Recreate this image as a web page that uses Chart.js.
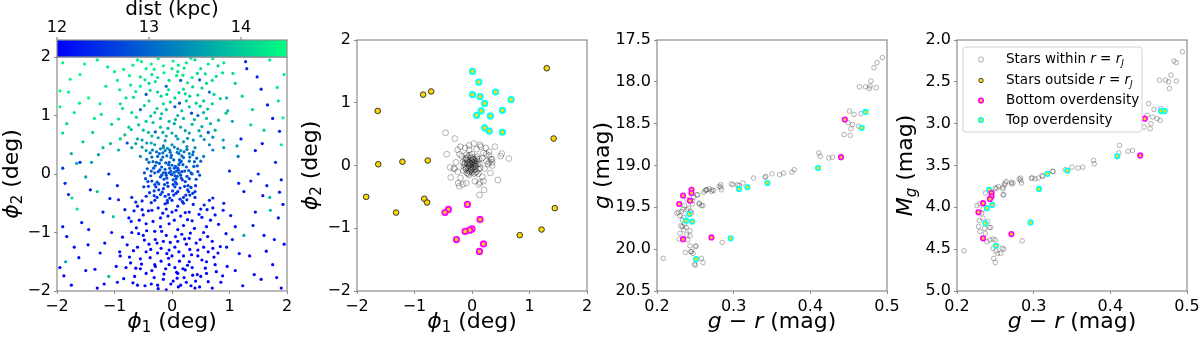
<!DOCTYPE html>
<html>
<head>
<meta charset="utf-8">
<script src="https://cdn.jsdelivr.net/npm/chart.js@4.4.1/dist/chart.umd.min.js"></script>
<style>
  body { margin: 0; background: #fff; width: 1200px; height: 339px; position: relative; overflow: hidden; }
  .panel { position: absolute; top: 0; height: 339px; }
</style>
</head>
<body>
<div class="panel" style="left:0;width:295px"><canvas id="skyDist"></canvas></div>
<div class="panel" style="left:290px;width:310px"><canvas id="skyGroups"></canvas></div>
<div class="panel" style="left:590px;width:310px"><canvas id="cmdApp"></canvas></div>
<div class="panel" style="left:890px;width:310px"><canvas id="cmdAbs"></canvas></div>
<script>
// ---- data ----
var skyTicks = [-2, -1, 0, 1, 2];
var colourTicks = [0.2, 0.3, 0.4, 0.5];
var gTicks = [17.5, 18.0, 18.5, 19.0, 19.5, 20.0, 20.5];
var mgTicks = [2.0, 2.5, 3.0, 3.5, 4.0, 4.5, 5.0];
var distTicks = [12, 13, 14];
var distRange = [12, 14.5];

// panel 1: [phi1, phi2, dist] (a sample of the field stars)
var fieldStars = [
  // central clump
  [-0.05,0.02,12.8],[0.05,-0.03,12.7],[-0.12,0.08,12.9],[0.1,0.1,12.8],[-0.2,-0.05,12.7],[0.18,-0.1,12.6],[0,0.15,12.9],[-0.08,-0.15,12.6],
  [0.14,0.2,13.0],[-0.22,0.18,12.9],[0.22,0.05,12.8],[-0.3,0.02,12.8],[0.28,-0.2,12.6],[-0.15,-0.25,12.5],[0.05,-0.22,12.6],[-0.02,0.28,13.0],
  [0.3,0.22,13.1],[-0.28,-0.22,12.6],[0.08,0.05,12.8],[-0.1,-0.02,12.7],[0.02,-0.1,12.7],[-0.04,0.1,12.8],[0.15,-0.02,12.7],[-0.18,0.12,12.9],
  [0.25,0.12,12.9],[-0.25,0.3,13.0],[0.1,-0.3,12.5],[-0.35,-0.12,12.7],[0.35,0.0,12.8],[-0.06,-0.35,12.5],[0.12,0.35,13.1],[-0.4,0.2,13.0],
  [0.4,-0.3,12.6],[-0.12,0.4,13.2],[0.2,-0.4,12.5],[0,0,12.8],[-0.02,0.05,12.8],[0.04,0.03,12.8],[-0.09,-0.07,12.7],[0.07,-0.08,12.7],
  [0.12,0.02,12.8],[-0.15,0.02,12.8],[-0.05,0.2,12.9],[0.02,-0.18,12.6],[0.2,0.28,13.0],[-0.32,0.1,12.9],[0.3,-0.08,12.7],[-0.2,-0.35,12.5],
  [-0.21,0.07,12.8],[0.17,0.04,12.7],[-0.07,-0.21,12.6],[0.03,0.24,12.9],[-0.26,-0.14,12.7],[0.23,-0.13,12.6],[-0.11,0.19,12.9],[0.08,-0.17,12.7],
  [-0.33,0.21,13.0],[0.31,0.29,13.0],[-0.17,-0.31,12.6],[0.14,-0.24,12.6],[-0.37,-0.03,12.8],[0.38,0.13,12.9],[0.01,-0.29,12.6],[-0.03,0.37,13.1],
  [-0.14,-0.09,12.7],[0.11,0.07,12.8],[-0.01,-0.01,12.8],[0.06,0.13,12.8],[-0.19,0.24,12.9],[0.27,-0.27,12.6],[-0.29,0.14,12.9],[0.19,0.16,12.9],
  [-0.24,0.04,12.8],[0.29,0.06,12.8],[-0.09,0.31,13.0],[0.07,-0.33,12.5],[-0.43,0.09,12.9],[0.42,-0.09,12.7],[-0.16,0.36,13.1],[0.21,0.38,13.1],
  [-0.31,-0.29,12.6],[0.33,-0.23,12.6],[-0.04,-0.41,12.5],[0.1,0.43,13.2],[-0.27,0.38,13.1],[0.36,0.33,13.1],[-0.41,-0.21,12.6],[0.24,-0.36,12.5],
  [0.04,0.1,12.8],[-0.13,-0.18,12.7],[0.16,-0.07,12.7],[-0.06,0.16,12.9],[0.09,-0.04,12.8],[-0.18,-0.02,12.8],[0.13,0.24,12.9],[-0.23,-0.27,12.6],
  [-0.35,0.29,13.0],[0.39,0.21,13.0],[-0.46,-0.08,12.7],[0.45,0.04,12.8],[-0.12,-0.38,12.5],[0.17,0.31,13.0],[-0.38,0.36,13.1],[0.31,-0.36,12.5],
  [-0.44,0.25,13.0],[0.43,0.27,13.0],[-0.39,-0.32,12.6],[0.41,-0.2,12.6],[-0.2,0.43,13.2],[0.26,0.42,13.2],[-0.08,-0.45,12.5],[0.14,-0.43,12.5],
  [-0.48,0.02,12.8],[0.48,-0.02,12.8],[-0.26,-0.4,12.5],[0.36,-0.33,12.5],[-0.34,0.41,13.1],[0.04,0.46,13.2],[-0.42,-0.13,12.7],[0.44,0.14,12.9],
  [-0.11,0.02,12.8],[0.06,-0.14,12.7],[-0.16,0.29,13.0],[0.22,-0.21,12.6],[-0.27,0.2,12.9],[0.33,0.02,12.8],[-0.36,0.05,12.8],[0.12,0.16,12.9],
  [-0.23,-0.17,12.7],[0.26,-0.04,12.8],[-0.01,0.32,13.0],[0.03,-0.36,12.5],[-0.31,-0.37,12.6],[0.37,0.38,13.1],[-0.49,-0.22,12.6],[0.5,0.22,13.0],
  [-0.15,0.48,13.2],[0.18,-0.47,12.4],[-0.04,0.41,13.1],[0.09,0.37,13.1],[-0.3,-0.18,12.7],[0.29,-0.3,12.6],[-0.22,0.35,13.0],[0.16,0.22,12.9],
  // upper band
  [-0.3,0.5,13.6],[0.2,0.55,13.5],[-0.6,0.6,13.8],[0.5,0.65,13.6],[0,0.7,13.7],[-0.2,0.8,13.9],[0.35,0.85,13.8],[-0.45,0.9,14.0],
  [0.6,0.95,13.9],[0.1,1.0,13.8],[-0.7,1.05,14.1],[-0.1,1.1,14.0],[0.3,1.15,13.9],[0.7,1.2,14.0],[-0.4,1.25,14.2],[0.05,1.3,14.1],
  [0.45,1.35,14.0],[-0.25,1.4,14.1],[0.2,1.45,14.2],[-0.55,1.5,14.3],[0.6,1.55,14.1],[-0.05,1.6,14.2],[0.35,1.65,14.3],[-0.35,1.7,14.2],
  [0.1,1.75,14.3],[0.5,1.8,14.2],[-0.15,1.85,14.4],[0.25,1.9,14.3],[-0.6,1.95,14.4],[0.7,1.6,14.2],[-0.5,0.75,13.9],[0.15,0.8,13.7],
  [-0.05,0.9,13.8],[0.55,1.05,13.7],[-0.3,1.05,14.0],[0.25,1.25,14.0],[-0.15,1.2,14.1],[0.4,0.45,13.4],[-0.45,0.4,13.5],[0.0,0.5,13.5],
  [0.65,0.5,13.3],[-0.7,0.45,13.6],[0.1,0.6,13.6],[-0.1,0.65,13.7],[0.3,0.7,13.6],[-0.35,0.65,13.8],[0.75,0.75,13.7],[-0.75,0.8,14.0],
  [0.2,0.95,13.8],[-0.2,0.95,13.9],[0.45,1.0,12.9],[-0.55,1.1,13.1],[0.05,1.15,12.8],[0.65,1.4,13.2],[-0.1,1.5,13.0],[0.15,1.6,12.9],
  [-0.4,1.55,14.1],[0.8,1.85,14.0],[-0.8,1.3,14.2],[0.55,1.25,14.0],[-0.25,1.65,14.3],[0.4,1.95,14.2],[0.0,1.8,14.3],[-0.45,1.8,14.4],
  [0.3,0.35,13.3],[-0.15,0.45,13.5],[0.15,0.4,13.4],[-0.55,0.3,13.4],[0.55,0.3,13.2],
  [-0.63,0.52,13.7],[0.37,0.58,13.5],[-0.12,0.57,13.6],[0.71,0.63,13.5],[-0.41,0.71,13.8],[0.23,0.74,13.6],[-0.82,0.67,13.9],[0.52,0.81,13.7],
  [-0.07,0.78,13.7],[-0.33,0.88,13.9],[0.81,0.92,13.8],[0.04,0.86,13.7],[-0.62,0.97,14.0],[0.39,0.93,13.8],[-0.18,1.03,13.9],[0.17,1.08,13.9],
  [-0.86,1.12,14.2],[0.62,1.11,13.9],[-0.48,1.17,14.1],[0.42,1.21,14.0],[-0.03,1.23,14.0],[-0.67,1.31,14.2],[0.31,1.33,14.0],[0.84,1.29,14.1],
  [-0.19,1.33,14.1],[0.12,1.39,14.1],[-0.38,1.43,14.2],[0.52,1.47,14.1],[-0.72,1.52,14.3],[-0.06,1.44,14.2],[0.27,1.56,14.2],[-0.29,1.58,14.2],
  [0.77,1.67,14.2],[-0.55,1.66,14.3],[0.08,1.68,14.3],[0.44,1.72,14.2],[-0.14,1.73,14.3],[-0.84,1.79,14.4],[0.21,1.81,14.3],[-0.36,1.88,14.4],
  [0.63,1.88,14.3],[0.02,1.93,14.4],[-0.24,1.97,14.4],[0.33,1.98,14.3],[-0.68,1.86,14.4],[0.56,0.59,13.4],[-0.24,0.62,13.6],[0.07,0.65,13.5],
  [-0.52,0.46,13.5],[0.26,0.47,13.4],[-0.08,0.44,13.4],[0.63,0.71,12.8],[-0.29,0.72,12.9],[0.34,1.04,12.7],[-0.45,1.36,12.9],[0.13,1.21,12.8],
  [-0.78,0.53,12.7],[0.48,1.61,12.9],[0.71,0.41,13.2],[-0.36,0.53,13.7],
  [-0.93,0.41,13.8],[-0.71,0.76,13.9],[-0.52,0.58,13.6],[0.89,0.58,13.6],[0.94,1.04,13.9],[0.67,0.86,13.8],[-0.58,0.84,13.9],[-0.26,1.12,14.0],
  [0.49,1.16,14.0],[-0.91,1.44,14.3],[0.73,1.36,14.1],[-0.63,1.41,14.3],[0.36,1.49,14.1],[-0.47,1.61,14.3],[0.58,1.71,14.2],[-0.09,1.36,14.1],
  [0.19,1.69,14.3],[-0.74,1.68,14.4],[0.88,1.73,14.2],[-0.31,1.79,14.4],[0.11,1.86,14.3],[-0.53,1.92,14.4],[0.71,1.97,14.3],[0.47,0.74,13.6],
  [-0.16,0.71,13.7],[0.27,0.61,13.5],[-0.44,0.53,13.6],[0.06,0.93,13.8],[-0.37,0.99,14.0],[0.23,1.37,14.1],
  // lower band
  [-0.3,-0.45,12.3],[0.2,-0.5,12.3],[-0.6,-0.55,12.2],[0.5,-0.6,12.2],[0,-0.65,12.2],[-0.2,-0.75,12.1],[0.35,-0.8,12.2],[-0.45,-0.85,12.1],
  [0.6,-0.9,12.1],[0.1,-0.95,12.1],[-0.7,-1.0,12.0],[-0.1,-1.05,12.1],[0.3,-1.1,12.0],[0.7,-1.15,12.1],[-0.4,-1.2,12.0],[0.05,-1.25,12.0],
  [0.45,-1.3,12.1],[-0.25,-1.35,12.0],[0.2,-1.4,12.0],[-0.55,-1.45,12.1],[0.6,-1.5,12.0],[-0.05,-1.55,12.0],[0.35,-1.6,12.0],[-0.35,-1.65,12.1],
  [0.1,-1.7,12.0],[0.5,-1.75,12.0],[-0.15,-1.8,12.0],[0.25,-1.85,12.0],[-0.6,-1.9,12.1],[0.7,-1.95,12.0],[-0.5,-0.7,12.2],[0.15,-0.72,12.2],
  [-0.05,-0.85,12.1],[0.55,-1.0,12.1],[-0.3,-0.98,12.1],[0.25,-1.2,12.0],[-0.15,-1.15,12.0],[0.4,-0.4,12.4],[-0.45,-0.38,12.3],[0.0,-0.45,12.4],
  [0.65,-0.45,12.3],[-0.7,-0.4,12.4],[0.1,-0.55,12.3],[-0.1,-0.6,12.3],[0.3,-0.65,12.2],[-0.35,-0.62,12.2],[0.75,-0.7,12.2],[-0.75,-0.75,12.1],
  [0.2,-0.88,12.1],[-0.2,-0.9,12.1],[0.45,-1.4,12.0],[-0.6,-1.25,12.1],[0.0,-1.4,12.0],[-0.3,-1.55,12.0],[0.6,-1.7,12.1],[-0.45,-1.7,12.0],
  [0.15,-1.9,12.0],[-0.1,-1.98,12.0],[0.4,-1.95,12.0],[-0.8,-1.6,12.1],[0.8,-1.35,12.1],[-0.25,-1.9,12.0],[0.05,-1.6,12.0],[0.3,-1.5,12.0],
  [-0.5,-1.05,12.1],[0.1,-1.15,12.1],[-0.05,-1.3,12.0],[0.55,-1.25,12.1],[-0.65,-1.75,12.0],[0.75,-1.55,12.0],
  [-0.63,-0.48,12.3],[0.37,-0.52,12.3],[-0.12,-0.51,12.3],[0.71,-0.58,12.2],[-0.41,-0.63,12.2],[0.23,-0.66,12.2],[-0.82,-0.61,12.2],[0.52,-0.74,12.2],
  [-0.07,-0.72,12.2],[-0.33,-0.81,12.1],[0.81,-0.86,12.1],[0.04,-0.79,12.1],[-0.62,-0.92,12.1],[0.39,-0.93,12.1],[-0.18,-0.98,12.1],[0.17,-1.03,12.1],
  [-0.86,-1.08,12.1],[0.62,-1.07,12.1],[-0.48,-1.13,12.0],[0.42,-1.18,12.0],[-0.03,-1.17,12.0],[-0.67,-1.31,12.0],[0.31,-1.29,12.0],[0.84,-1.24,12.1],
  [-0.19,-1.27,12.0],[0.12,-1.33,12.0],[-0.38,-1.43,12.0],[0.52,-1.47,12.0],[-0.72,-1.52,12.1],[-0.06,-1.44,12.0],[0.27,-1.56,12.0],[-0.29,-1.58,12.0],
  [0.77,-1.67,12.0],[-0.55,-1.62,12.0],[0.08,-1.68,12.0],[0.44,-1.72,12.0],[-0.14,-1.71,12.0],[-0.84,-1.79,12.1],[0.21,-1.77,12.0],[-0.36,-1.88,12.0],
  [0.63,-1.84,12.0],[0.02,-1.83,12.0],[-0.24,-1.96,12.0],[0.33,-1.91,12.0],[-0.68,-1.86,12.0],[0.56,-0.53,12.3],[-0.24,-0.58,12.3],[0.07,-0.62,12.2],
  [-0.52,-0.46,12.3],[0.26,-0.44,12.4],[-0.08,-0.49,12.4],[0.63,-1.33,12.0],[-0.29,-1.12,12.0],[0.34,-1.38,12.0],[-0.45,-1.33,12.0],[0.13,-1.49,12.0],
  [-0.78,-1.21,12.1],[0.48,-1.93,12.0],[0.71,-0.41,12.3],[-0.36,-0.49,12.3],[0.09,-1.78,12.0],[-0.11,-1.62,12.0],[0.22,-1.11,12.0],[-0.57,-0.79,12.1],
  [-0.93,-0.44,12.3],[-0.71,-0.81,12.2],[-0.52,-0.61,12.2],[0.89,-0.62,12.2],[0.94,-1.02,12.1],[0.67,-0.79,12.1],[-0.58,-1.02,12.1],[-0.26,-1.18,12.0],
  [0.49,-1.12,12.0],[-0.91,-1.33,12.1],[0.73,-1.42,12.0],[-0.63,-1.61,12.0],[0.36,-1.73,12.0],[-0.47,-1.91,12.0],[0.58,-1.61,12.0],[-0.09,-1.36,12.0],
  [0.19,-1.62,12.0],[-0.74,-1.42,12.1],[0.88,-1.74,12.0],[-0.31,-1.77,12.0],[0.11,-1.93,12.0],[-0.53,-1.54,12.0],[0.71,-1.27,12.0],[0.47,-0.69,12.2],
  [-0.16,-0.67,12.2],[0.27,-0.78,12.2],[-0.44,-0.97,12.1],[0.06,-1.07,12.1],[-0.37,-1.29,12.0],[0.23,-1.64,12.0],[-0.02,-1.88,12.0],[0.41,-1.83,12.0],
  [-0.19,-1.49,12.0],[0.32,-1.01,12.1],[-0.66,-0.63,12.2],[0.61,-0.61,12.2],
  // left field
  [-1.9,1.9,14.4],[-1.6,1.7,14.5],[-1.3,1.95,14.3],[-1.0,1.75,14.4],[-1.8,1.4,14.4],[-1.45,1.3,14.5],[-1.15,1.5,14.3],[-0.9,1.2,14.2],
  [-1.7,1.05,14.3],[-1.35,0.95,14.4],[-1.05,0.85,14.1],[-1.9,0.7,14.2],[-1.55,0.55,14.0],[-1.2,0.45,13.9],[-0.9,0.6,14.0],[-1.75,0.35,13.8],
  [-1.4,0.2,13.6],[-1.95,1.15,14.5],[-1.25,1.2,14.4],[-0.95,1.6,14.4],
  [-1.77,1.62,14.4],[-1.52,1.88,14.4],[-1.12,1.83,14.3],[-1.61,1.21,14.4],[-1.23,1.02,14.3],[-1.83,0.86,14.2],[-1.38,0.71,14.1],[-1.07,0.52,13.9],
  [-1.66,0.18,13.7],[-1.28,0.33,13.6],[-0.93,0.94,14.2],[-1.95,1.42,14.5],
  [-1.9,0.1,12.5],[-1.5,-0.05,13.5],[-1.1,0.0,12.4],[-1.8,-0.35,12.3],[-1.3,-0.3,14.0],[-0.95,-0.2,12.4],[-1.65,-0.6,14.3],[-1.2,-0.65,12.2],
  [-1.9,-0.9,12.2],[-1.45,-0.95,12.1],[-1.05,-1.0,12.2],[-1.7,-1.25,12.1],[-1.25,-1.35,12.1],[-0.9,-1.4,12.1],[-1.95,-1.6,12.0],[-1.5,-1.65,12.1],
  [-1.1,-1.75,13.9],[-1.75,-1.9,12.0],[-1.3,-1.95,12.0],[-0.95,-1.85,12.1],[-1.85,-1.5,13.6],[-1.6,0.2,12.3],
  [-1.42,-0.27,12.3],[-1.86,-0.16,12.4],[-1.08,-0.42,12.2],[-1.57,-0.83,12.2],[-1.17,-1.18,12.1],[-1.83,-1.07,12.1],[-1.34,-1.63,12.1],[-0.97,-1.58,12.1],
  [-1.62,-1.43,12.1],[-1.18,-1.88,12.0],[-1.88,-1.74,12.0],[-1.02,-0.73,14.0],[-1.74,-0.41,14.2],[-1.46,-1.21,12.1],
  // right field
  [0.9,1.9,14.2],[1.3,1.8,12.4],[1.7,1.95,14.3],[1.95,1.7,14.4],[1.1,1.55,14.0],[1.55,1.45,12.3],[1.85,1.25,14.3],[0.95,1.3,13.8],
  [1.4,1.1,14.1],[1.75,0.95,12.2],[1.05,0.9,13.7],[1.6,0.75,14.1],[1.2,0.6,12.3],[1.9,0.5,14.4],[0.9,0.45,13.5],[1.45,0.4,12.2],
  [1.8,0.2,12.4],[1.15,0.3,13.2],
  [1.06,1.72,14.2],[1.48,1.66,12.3],[1.83,1.48,14.3],[1.22,1.33,14.1],[1.66,1.18,12.2],[0.97,1.08,13.8],[1.37,0.84,14.1],[1.87,0.73,12.3],
  [1.13,0.48,13.6],[1.57,0.52,12.2],[1.93,0.96,14.4],[1.28,1.92,12.4],
  [1.0,0.05,12.4],[1.5,0.0,12.3],[1.9,-0.1,12.2],[1.25,-0.3,12.2],[1.7,-0.4,13.9],[0.9,-0.5,12.3],[1.45,-0.65,12.1],[1.85,-0.75,12.2],
  [1.1,-0.9,12.1],[1.6,-1.05,12.1],[1.95,-1.2,12.0],[0.95,-1.25,12.1],[1.35,-1.4,12.0],[1.75,-1.55,12.1],[1.1,-1.65,12.0],[1.55,-1.8,12.0],
  [1.9,-1.95,12.0],[0.85,-1.85,12.0],[1.25,-1.05,13.6],[1.65,-0.2,12.3],
  [1.16,-0.16,12.3],[1.58,-0.37,12.2],[1.93,-0.52,12.2],[1.02,-0.71,12.2],[1.41,-0.88,12.1],[1.78,-1.12,12.1],[1.17,-1.36,12.1],[1.64,-1.32,12.0],
  [0.96,-1.58,12.0],[1.43,-1.72,12.0],[1.82,-1.77,12.0],[1.23,-1.91,12.0],[1.71,-0.62,13.8],[1.37,-0.12,12.3],[1.05,-1.12,12.1],[1.87,-0.31,12.3]
];

// panel 2: [phi1, phi2]
var skyWithin = [
  [-0.03,0.03],[0.02,0.0],[-0.08,0.06],[0.05,0.08],[-0.1,-0.04],[0.06,-0.06],[-0.02,0.12],[-0.04,-0.1],[0.1,0.02],[-0.13,0.02],
  [0.0,-0.03],[-0.06,0.0],[0.03,0.05],[-0.01,-0.06],[0.08,-0.1],[-0.12,0.1],[0.12,0.1],[-0.15,-0.08],[0.04,-0.13],[-0.07,0.14],
  [0.14,-0.04],[-0.05,-0.15],[0.09,0.14],[-0.16,0.05],[0.0,0.18],[-0.02,0.08],[0.05,0.02],[-0.09,-0.12],[0.11,-0.13],[-0.1,0.17],
  [-0.04,0.01],[0.01,0.04],[-0.07,-0.03],[0.04,-0.02],[-0.02,-0.08],[0.06,0.04],[-0.09,0.09],[0.02,0.09],[-0.11,-0.06],[0.07,-0.01],
  [-0.05,0.05],[0.0,-0.11],[-0.08,0.03],[0.03,-0.07],[-0.03,-0.04],[0.09,0.07],[-0.12,0.04],[0.01,0.13],[-0.06,-0.09],[0.11,-0.06],
  [-0.01,0.02],[0.03,0.1],[-0.1,0.12],[0.06,-0.11],[-0.14,-0.02],[0.13,0.03],[-0.04,0.16],[0.08,0.11],[-0.07,-0.13],[0.0,0.06],
  [-0.22,0.18],[-0.18,0.15],[0.2,0.2],[0.25,0.07],[0.22,-0.05],[0.18,-0.18],[-0.25,-0.1],[-0.2,-0.2],[-0.05,0.25],[0.08,0.26],
  [0.15,0.3],[-0.12,0.28],[0.3,0.16],[0.32,-0.12],[0.25,0.18],[-0.28,0.05],[-0.3,-0.05],[0.05,-0.25],[-0.1,-0.28],[0.12,-0.3],
  [0.28,0.02],[-0.2,0.3],[0.35,0.1],[-0.16,-0.3],[0.2,-0.25],[-0.05,0.32],[0.18,0.12],[-0.25,0.25],
  [-0.46,0.52],[-0.30,0.43],[-0.44,0.18],[0.40,0.30],[0.52,0.19],[0.50,0.15],[0.64,0.11],[0.45,-0.23],[0.21,-0.39],[0.13,-0.47],
  [-0.22,-0.33],[-0.24,-0.28],[-0.37,-0.19],[0.14,0.33],[0.03,0.35],[0.24,0.28],[0.35,0.05],[0.35,0.0],[-0.38,-0.03],[0.14,-0.27],
  [0.3,0.22],[-0.32,-0.05],[0.3,0.05],[0.33,0.1]
];
var skyOutside = [
  [-1.64,0.87],[-0.85,1.13],[-0.71,1.18],[-1.63,0.02],[-1.21,0.06],[-0.77,0.08],[-1.84,-0.50],[-1.32,-0.75],
  [-0.83,-0.53],[-0.78,-0.59],[1.30,1.55],[1.42,0.43],[1.44,-0.68],[1.21,-1.02],[0.83,-1.11]
];
var skyTop = [
  [0.01,1.50],[0.12,1.33],[0.01,1.13],[0.14,1.10],[0.41,1.17],[0.22,0.99],[0.68,1.05],[0.16,0.87],
  [0.08,0.80],[0.32,0.79],[0.53,0.88],[0.22,0.60],[0.30,0.55],[0.53,0.53]
];
var skyBottom = [
  [-0.08,-0.62],[-0.41,-0.70],[-0.47,-0.75],[0.14,-0.86],[0.00,-1.01],[-0.04,-1.03],[-0.12,-1.05],[-0.27,-1.18],
  [0.20,-1.25],[0.13,-1.37]
];

// panel 3: [g-r, g]
var cmdWithin = [
  [0.494,17.71],[0.487,17.77],[0.483,17.83],[0.479,17.99],[0.478,18.05],[0.464,18.06],[0.472,18.06],[0.477,18.08],[0.486,18.07],
  [0.451,18.35],[0.457,18.39],[0.466,18.38],[0.449,18.49],[0.455,18.51],[0.453,18.56],[0.452,18.64],[0.444,18.63],[0.463,18.53],
  [0.411,18.85],[0.413,18.89],[0.424,18.91],[0.429,18.90],[0.379,19.05],[0.376,19.08],[0.365,19.09],[0.360,19.11],[0.350,19.10],
  [0.342,19.13],[0.326,19.15],[0.312,19.21],[0.307,19.24],[0.299,19.23],[0.283,19.23],[0.283,19.26],[0.284,19.29],[0.274,19.30],
  [0.271,19.31],[0.265,19.29],[0.263,19.30],[0.261,19.32],[0.252,19.35],[0.246,19.42],[0.246,19.46],[0.255,19.46],[0.260,19.48],
  [0.228,19.56],[0.232,19.55],[0.226,19.57],[0.234,19.52],[0.239,19.53],[0.236,19.48],[0.239,19.41],[0.241,19.51],[0.230,19.60],
  [0.233,19.65],[0.235,19.62],[0.231,19.72],[0.233,19.73],[0.235,19.77],[0.238,19.74],[0.236,19.70],[0.230,19.81],[0.239,19.83],
  [0.243,19.84],[0.229,19.88],[0.240,19.89],[0.243,19.78],[0.237,20.04],[0.244,20.03],[0.243,19.96],[0.251,19.96],[0.250,19.97],
  [0.245,20.03],[0.247,20.05],[0.258,20.11],[0.260,20.16],[0.250,20.19],[0.249,20.18],[0.208,20.11],[0.285,19.92],[0.244,19.55],
  [0.245,19.57],[0.253,19.35],[0.248,19.38],[0.264,19.29],[0.268,19.28],[0.272,19.29],[0.281,19.25],[0.297,19.22],[0.305,19.23],
  [0.341,19.14],[0.255,19.45],[0.258,19.48]
];
var cmdBottom = [
  [0.445,18.45],[0.440,18.90],[0.245,19.29],[0.245,19.33],[0.234,19.36],[0.243,19.42],[0.229,19.46],[0.234,19.88],[0.271,19.86]
];
var cmdTop = [
  [0.472,18.36],[0.467,18.55],[0.410,19.03],[0.344,19.21],[0.318,19.26],[0.307,19.28],[0.242,19.58],[0.238,19.66],[0.246,19.67],
  [0.296,19.87],[0.251,20.12]
];

// panel 4: [g-r, M_g]
var absWithin = [
  [0.494,2.14],[0.483,2.25],[0.486,2.27],[0.479,2.42],[0.464,2.48],[0.472,2.48],[0.476,2.50],[0.486,2.49],[0.477,2.58],[0.450,2.76],
  [0.457,2.83],[0.466,2.82],[0.448,2.90],[0.455,2.92],[0.453,3.00],[0.452,3.06],[0.444,3.04],[0.461,2.94],[0.465,2.96],
  [0.412,3.26],[0.411,3.35],[0.423,3.33],[0.429,3.32],[0.378,3.44],[0.379,3.48],[0.364,3.52],[0.358,3.53],[0.350,3.52],[0.341,3.55],
  [0.325,3.57],[0.311,3.62],[0.306,3.65],[0.298,3.65],[0.283,3.65],[0.283,3.68],[0.284,3.71],[0.273,3.71],[0.271,3.72],[0.264,3.69],
  [0.262,3.73],[0.260,3.76],[0.252,3.77],[0.261,3.85],[0.246,3.82],[0.237,3.83],[0.250,3.77],[0.254,3.75],[0.260,3.78],[0.263,3.71],
  [0.271,3.70],[0.281,3.66],[0.297,3.65],[0.302,3.66],[0.312,3.63],[0.325,3.57],[0.260,3.85],[0.226,3.98],[0.230,3.96],[0.234,4.02],
  [0.232,4.07],[0.234,4.13],[0.240,4.17],[0.242,4.24],[0.228,4.23],[0.230,4.29],[0.237,4.31],[0.243,4.39],[0.247,4.38],[0.250,4.39],
  [0.239,4.41],[0.247,4.49],[0.251,4.52],[0.253,4.55],[0.248,4.61],[0.250,4.66],[0.259,4.49],[0.261,4.50],[0.257,4.55],[0.209,4.52],
  [0.285,4.40],[0.229,4.16],[0.236,4.25],[0.244,4.24]
];
var absBottom = [
  [0.445,2.94],[0.439,3.38],[0.245,3.83],[0.245,3.87],[0.243,3.90],[0.234,3.95],[0.228,4.06],[0.234,4.37],[0.271,4.32]
];
var absTop = [
  [0.466,2.85],[0.471,2.85],[0.409,3.39],[0.344,3.56],[0.318,3.60],[0.307,3.78],[0.242,3.79],[0.246,3.97],[0.239,4.01],
  [0.237,4.19],[0.296,4.18],[0.251,4.46]
];

// ---- styling helpers ----
var FONT = '"DejaVu Sans"';
var FRAME = '#8c8c8c';
var GOLD = '#ffd700';
Chart.defaults.font.family = FONT;
Chart.defaults.color = '#000';

function xy(list) { return list.map(function (p) { return { x: p[0], y: p[1] }; }); }
function minus(v) { return v < 0 ? '\u2212' + Math.abs(v) : String(v); }
function oneDec(v) { return v.toFixed(1); }

function winter(d) {
  var t = Math.min(1, Math.max(0, (d - distRange[0]) / (distRange[1] - distRange[0])));
  return 'rgb(0,' + Math.round(255 * t) + ',' + Math.round(255 * (1 - 0.5 * t)) + ')';
}

function makeScale(axis, min, max, ticks, fmt, reverse, areaLeft) {
  return {
    type: 'linear', min: min, max: max, reverse: !!reverse,
    grid: { drawOnChartArea: false, drawTicks: true, tickLength: 3, tickColor: FRAME },
    border: { display: false },
    ticks: { padding: 3, font: { size: 16 }, color: '#000', maxRotation: 0, autoSkip: false,
      callback: function (v) { return fmt(v); } },
    afterBuildTicks: function (s) { s.ticks = ticks.map(function (v) { return { value: v }; }); },
    afterFit: function (s) {
      s.paddingLeft = s.paddingRight = s.paddingTop = s.paddingBottom = 0;
      if (axis === 'x') s.height = 48; else s.width = areaLeft;
    }
  };
}

// rich text: {t: text, i: italic, s: subscript}
function segFont(s, size) {
  return (s.i ? 'italic ' : '') + (s.s ? Math.round(size * 0.7) : size) + 'px ' + FONT;
}
function drawRich(ctx, segs, x, y, size, rot, align) {
  ctx.save();
  ctx.translate(x, y);
  if (rot) ctx.rotate(rot);
  var w = 0;
  segs.forEach(function (s) { ctx.font = segFont(s, size); w += ctx.measureText(s.t).width; });
  var cx = align === 'left' ? 0 : -w / 2;
  ctx.textBaseline = 'middle';
  ctx.textAlign = 'left';
  ctx.fillStyle = '#000';
  segs.forEach(function (s) {
    ctx.font = segFont(s, size);
    ctx.fillText(s.t, cx, s.s ? size * 0.28 : 0);
    cx += ctx.measureText(s.t).width;
  });
  ctx.restore();
}
function it(t) { return { t: t, i: true }; }
function rm(t) { return { t: t }; }
function sb(t, i) { return { t: t, s: true, i: !!i }; }

var phi1Label = [it('\u03d5'), sb('1'), rm(' (deg)')];
var phi2Label = [it('\u03d5'), sb('2'), rm(' (deg)')];
var colourLabel = [it('g'), rm(' \u2212 '), it('r'), rm(' (mag)')];
var gLabel = [it('g'), rm(' (mag)')];
var mgLabel = [it('M'), sb('g', true), rm(' (mag)')];

var framePlugin = {
  id: 'frame',
  afterDraw: function (chart, args, o) {
    var a = chart.chartArea, ctx = chart.ctx;
    ctx.save();
    ctx.strokeStyle = FRAME;
    ctx.lineWidth = 1.2;
    ctx.strokeRect(a.left, a.top, a.right - a.left, a.bottom - a.top);
    drawRich(ctx, o.xLabel, (a.left + a.right) / 2, 322, 22, 0);
    drawRich(ctx, o.yLabel, o.yPos, (a.top + a.bottom) / 2, 22, -Math.PI / 2);
    ctx.restore();
  }
};

var colourbarPlugin = {
  id: 'colourbar',
  afterDraw: function (chart) {
    var a = chart.chartArea, ctx = chart.ctx;
    var top = 40, h = a.top - top;
    var grad = ctx.createLinearGradient(a.left, 0, a.right, 0);
    grad.addColorStop(0, winter(distRange[0]));
    grad.addColorStop(1, winter(distRange[1]));
    ctx.save();
    ctx.fillStyle = grad;
    ctx.fillRect(a.left, top, a.right - a.left, h);
    ctx.strokeStyle = FRAME;
    ctx.lineWidth = 1.2;
    ctx.strokeRect(a.left, top, a.right - a.left, h);
    ctx.fillStyle = '#000';
    ctx.font = '16px ' + FONT;
    ctx.textAlign = 'center';
    ctx.textBaseline = 'middle';
    distTicks.forEach(function (d) {
      var x = a.left + (d - distRange[0]) / (distRange[1] - distRange[0]) * (a.right - a.left);
      ctx.beginPath(); ctx.moveTo(x, top); ctx.lineTo(x, top - 3); ctx.stroke();
      ctx.fillText(String(d), x, 28);
    });
    ctx.font = '20px ' + FONT;
    ctx.fillText('dist (kpc)', (a.left + a.right) / 2, 10);
    ctx.restore();
  }
};

var legendItems = [
  { segs: [rm('Stars within '), it('r'), rm(' = '), it('r'), sb('J', true)], fill: 'rgba(0,0,0,0)', edge: 'rgba(0,0,0,0.35)', r: 2.6, w: 0.9 },
  { segs: [rm('Stars outside '), it('r'), rm(' = '), it('r'), sb('J', true)], fill: GOLD, edge: '#333', r: 2.2, w: 0.9 },
  { segs: [rm('Bottom overdensity')], fill: GOLD, edge: '#ff00ff', r: 2.3, w: 1.6 },
  { segs: [rm('Top overdensity')], fill: GOLD, edge: '#00ffff', r: 2.3, w: 1.6 }
];
var legendPlugin = {
  id: 'boxLegend',
  afterDatasetsDraw: function (chart) {
    var ctx = chart.ctx;
    var rows = [59.5, 80.5, 100.5, 120];
    ctx.save();
    ctx.beginPath();
    ctx.roundRect(73, 47, 179, 85, 3);
    ctx.fillStyle = 'rgba(255,255,255,0.85)';
    ctx.fill();
    ctx.strokeStyle = '#d4d4d4';
    ctx.lineWidth = 1;
    ctx.stroke();
    legendItems.forEach(function (item, k) {
      ctx.beginPath();
      ctx.arc(91, rows[k], item.r, 0, Math.PI * 2);
      ctx.fillStyle = item.fill; ctx.fill();
      ctx.strokeStyle = item.edge; ctx.lineWidth = item.w; ctx.stroke();
      drawRich(ctx, item.segs, 116, rows[k], 13.5, 0, 'left');
    });
    ctx.restore();
  }
};

function within(list, r) {
  return { data: xy(list), order: 3, pointRadius: r, pointBorderWidth: 0.9,
    pointBackgroundColor: 'rgba(0,0,0,0)', pointBorderColor: 'rgba(0,0,0,0.33)' };
}
function marked(list, edge, r, w, order) {
  return { data: xy(list), order: order, pointRadius: r, pointBorderWidth: w,
    pointBackgroundColor: GOLD, pointBorderColor: edge };
}

function panel(id, datasets, scales, top, rightPad, labels, extra) {
  return new Chart(document.getElementById(id), {
    type: 'scatter',
    data: { datasets: datasets },
    options: {
      responsive: true, maintainAspectRatio: false, animation: false, events: [],
      layout: { padding: { left: 0, right: rightPad, top: top, bottom: 0 } },
      scales: scales,
      plugins: { legend: { display: false }, tooltip: { enabled: false }, frame: labels }
    },
    plugins: [framePlugin].concat(extra || [])
  });
}

// panel 1
panel('skyDist', [{
  data: fieldStars.map(function (s) { return { x: s[0], y: s[1] }; }),
  pointRadius: 1.6, pointBorderWidth: 0,
  pointBackgroundColor: fieldStars.map(function (s) { return winter(s[2]); })
}], {
  x: makeScale('x', -2, 2, skyTicks, minus, false, 57),
  y: makeScale('y', -2, 2, skyTicks, minus, false, 57)
}, 57, 8, { xLabel: phi1Label, yLabel: phi2Label, yPos: 12 }, [colourbarPlugin]);

// panel 2
panel('skyGroups', [
  within(skyWithin, 2.9),
  marked(skyOutside, '#333', 2.8, 1, 2),
  marked(skyBottom, '#ff00ff', 2.7, 1.8, 1),
  marked(skyTop, '#00ffff', 2.7, 1.8, 1)
], {
  x: makeScale('x', -2, 2, skyTicks, minus, false, 67),
  y: makeScale('y', -2, 2, skyTicks, minus, false, 67)
}, 40, 13, { xLabel: phi1Label, yLabel: phi2Label, yPos: 21 });

// panel 3
panel('cmdApp', [
  within(cmdWithin, 2.3),
  marked(cmdBottom, '#ff00ff', 2.3, 1.6, 1),
  marked(cmdTop, '#00ffff', 2.3, 1.6, 1)
], {
  x: makeScale('x', 0.2, 0.5, colourTicks, oneDec, false, 67),
  y: makeScale('y', 17.5, 20.5, gTicks, oneDec, true, 67)
}, 40, 13, { xLabel: colourLabel, yLabel: gLabel, yPos: 13 });

// panel 4
panel('cmdAbs', [
  within(absWithin, 2.3),
  marked(absBottom, '#ff00ff', 2.3, 1.6, 1),
  marked(absTop, '#00ffff', 2.3, 1.6, 1)
], {
  x: makeScale('x', 0.2, 0.5, colourTicks, oneDec, false, 67),
  y: makeScale('y', 2.0, 5.0, mgTicks, oneDec, true, 67)
}, 40, 13, { xLabel: colourLabel, yLabel: mgLabel, yPos: 16 }, [legendPlugin]);
</script>
</body>
</html>
